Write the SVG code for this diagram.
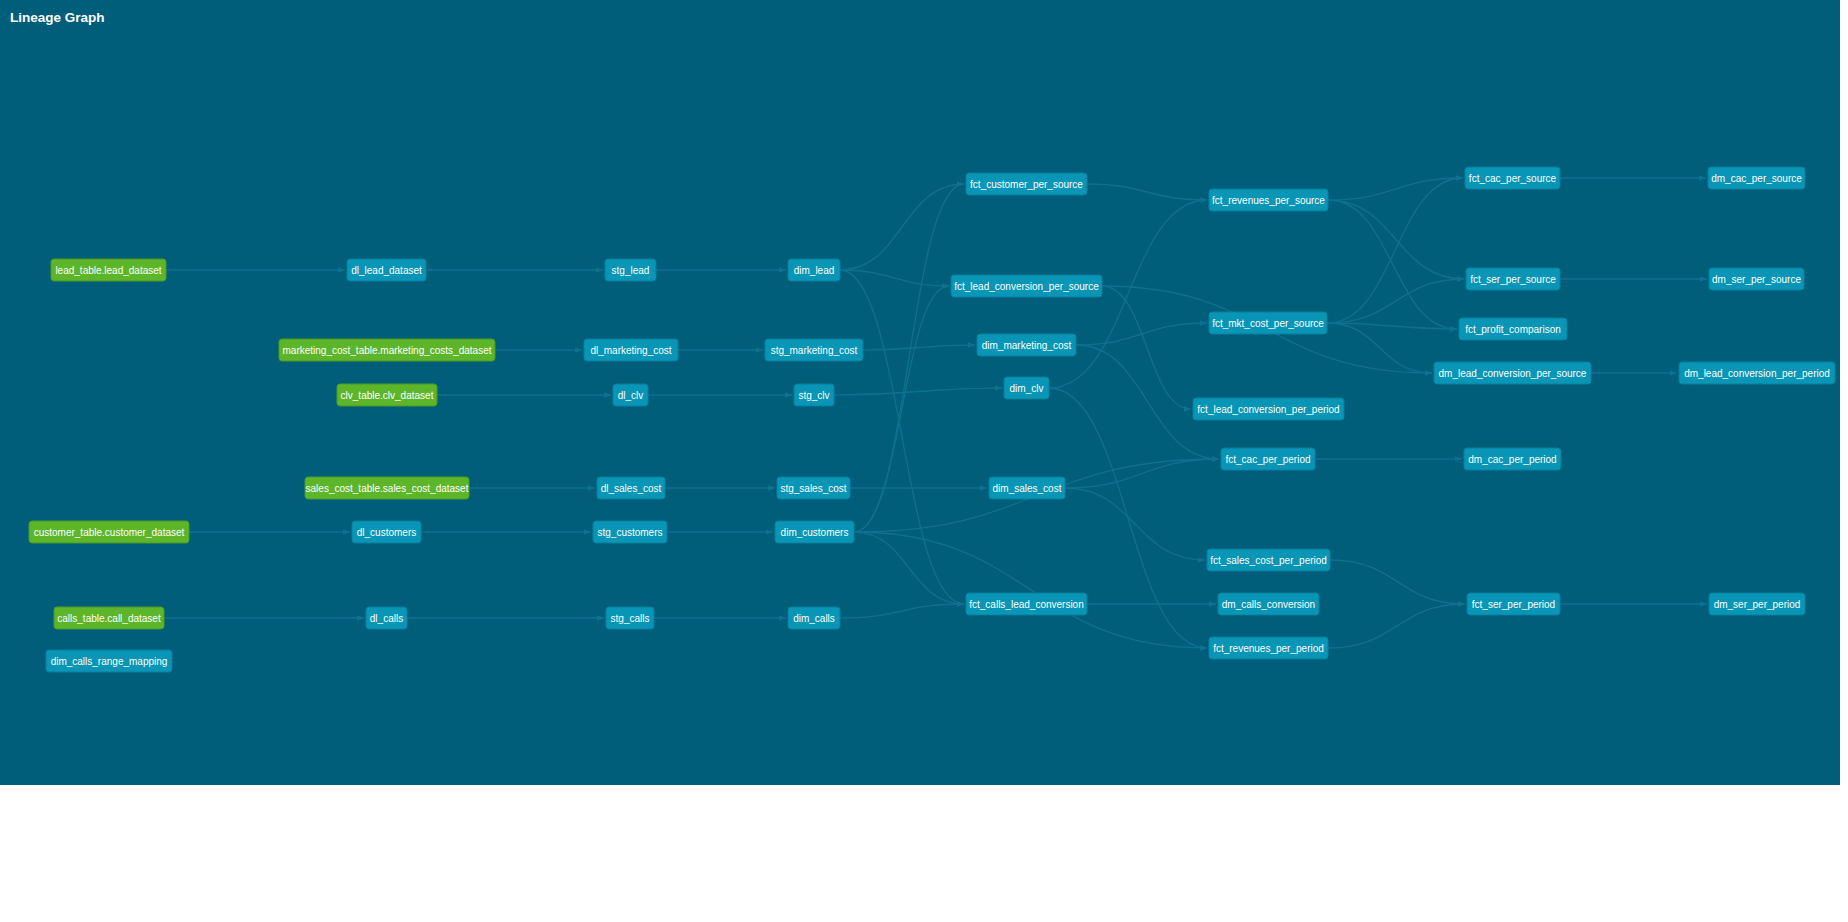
<svg xmlns="http://www.w3.org/2000/svg" width="1848" height="922" viewBox="0 0 1848 922">
<style>
.bg{fill:#005e7a}
.title{font-family:"Liberation Sans",Arial,sans-serif;font-size:13.5px;font-weight:bold;fill:#ffffff}
.node rect{fill:#0895b6;stroke:#07809d;stroke-width:1}
.node.src rect{fill:#5db52a;stroke:#4c9a22}
.node text{font-family:"Liberation Sans",Arial,sans-serif;font-size:10px;fill:#ffffff;text-anchor:middle}
.edges path{fill:none;stroke:#0e7190;stroke-width:1.3}
</style>
<defs>
<marker id="arrow" viewBox="0 0 10 10" refX="10" refY="5" markerWidth="7" markerHeight="7" orient="auto" markerUnits="userSpaceOnUse">
<path d="M0,1 L10,5 L0,9 z" fill="#0e7190"/>
</marker>
</defs>
<rect x="0" y="0" width="1848" height="922" fill="#ffffff"/>
<rect class="bg" x="0" y="0" width="1840" height="785"/>
<text class="title" x="10" y="22">Lineage Graph</text>

<g class="edges">
<path marker-end="url(#arrow)" d="M166 270 L345 270"/>
<path marker-end="url(#arrow)" d="M426 270 L603 270"/>
<path marker-end="url(#arrow)" d="M656 270 L786 270"/>
<path marker-end="url(#arrow)" d="M495 350 L582 350"/>
<path marker-end="url(#arrow)" d="M678 350 L763 350"/>
<path marker-end="url(#arrow)" d="M863 350 C919 350 919 345 975 345"/>
<path marker-end="url(#arrow)" d="M437 395 L611 395"/>
<path marker-end="url(#arrow)" d="M648 395 L792 395"/>
<path marker-end="url(#arrow)" d="M834 395 C918 395 918 388 1002 388"/>
<path marker-end="url(#arrow)" d="M469 488 L595 488"/>
<path marker-end="url(#arrow)" d="M665 488 L775 488"/>
<path marker-end="url(#arrow)" d="M850 488 L987 488"/>
<path marker-end="url(#arrow)" d="M189 532 L350 532"/>
<path marker-end="url(#arrow)" d="M421 532 L591 532"/>
<path marker-end="url(#arrow)" d="M667 532 L773 532"/>
<path marker-end="url(#arrow)" d="M164 618 L364 618"/>
<path marker-end="url(#arrow)" d="M407 618 L604 618"/>
<path marker-end="url(#arrow)" d="M654 618 L786 618"/>
<path marker-end="url(#arrow)" d="M840 618 C902 618 902 604 964 604"/>
<path marker-end="url(#arrow)" d="M840 270 C902 270 902 184 964 184"/>
<path marker-end="url(#arrow)" d="M840 270 C895 270 895 286 949 286"/>
<path marker-end="url(#arrow)" d="M840 270 C902 270 902 604 964 604"/>
<path marker-end="url(#arrow)" d="M854 532 C909 532 909 184 964 184"/>
<path marker-end="url(#arrow)" d="M854 532 C902 532 902 286 949 286"/>
<path marker-end="url(#arrow)" d="M854 532 C1037 532 1037 459 1219 459"/>
<path marker-end="url(#arrow)" d="M854 532 C1031 532 1031 648 1207 648"/>
<path marker-end="url(#arrow)" d="M854 532 C909 532 909 604 964 604"/>
<path marker-end="url(#arrow)" d="M1087 184 C1147 184 1147 200 1207 200"/>
<path marker-end="url(#arrow)" d="M1049 388 C1128 388 1128 200 1207 200"/>
<path marker-end="url(#arrow)" d="M1049 388 C1128 388 1128 648 1207 648"/>
<path marker-end="url(#arrow)" d="M1076 345 C1142 345 1142 323 1207 323"/>
<path marker-end="url(#arrow)" d="M1076 345 C1148 345 1148 459 1219 459"/>
<path marker-end="url(#arrow)" d="M1102 286 C1147 286 1147 409 1191 409"/>
<path marker-end="url(#arrow)" d="M1102 286 C1267 286 1267 373 1432 373"/>
<path marker-end="url(#arrow)" d="M1065 488 C1142 488 1142 459 1219 459"/>
<path marker-end="url(#arrow)" d="M1065 488 C1135 488 1135 560 1205 560"/>
<path marker-end="url(#arrow)" d="M1087 604 L1216 604"/>
<path marker-end="url(#arrow)" d="M1328 200 C1396 200 1396 178 1463 178"/>
<path marker-end="url(#arrow)" d="M1328 200 C1396 200 1396 279 1464 279"/>
<path marker-end="url(#arrow)" d="M1328 200 C1393 200 1393 329 1457 329"/>
<path marker-end="url(#arrow)" d="M1327 323 C1395 323 1395 178 1463 178"/>
<path marker-end="url(#arrow)" d="M1327 323 C1396 323 1396 279 1464 279"/>
<path marker-end="url(#arrow)" d="M1327 323 C1392 323 1392 329 1457 329"/>
<path marker-end="url(#arrow)" d="M1327 323 C1380 323 1380 373 1432 373"/>
<path marker-end="url(#arrow)" d="M1560 178 L1706 178"/>
<path marker-end="url(#arrow)" d="M1560 279 L1707 279"/>
<path marker-end="url(#arrow)" d="M1591 373 L1677 373"/>
<path marker-end="url(#arrow)" d="M1315 459 L1462 459"/>
<path marker-end="url(#arrow)" d="M1330 560 C1398 560 1398 604 1465 604"/>
<path marker-end="url(#arrow)" d="M1328 648 C1397 648 1397 604 1465 604"/>
<path marker-end="url(#arrow)" d="M1560 604 L1707 604"/>
</g>

<g id="lead_table.lead_dataset" class="node src"><rect x="51" y="259" width="115" height="22" rx="3"/><text x="108.5" y="273.5">lead_table.lead_dataset</text></g>
<g id="customer_table.customer_dataset" class="node src"><rect x="29" y="521" width="160" height="22" rx="3"/><text x="109" y="535.5">customer_table.customer_dataset</text></g>
<g id="calls_table.call_dataset" class="node src"><rect x="54" y="607" width="110" height="22" rx="3"/><text x="109" y="621.5">calls_table.call_dataset</text></g>
<g id="dim_calls_range_mapping" class="node"><rect x="46" y="650" width="126" height="22" rx="3"/><text x="109" y="664.5">dim_calls_range_mapping</text></g>

<g id="dl_lead_dataset" class="node"><rect x="347" y="259" width="79" height="22" rx="3"/><text x="386.5" y="273.5">dl_lead_dataset</text></g>
<g id="marketing_cost_table.marketing_costs_dataset" class="node src"><rect x="279" y="339" width="216" height="22" rx="3"/><text x="387" y="353.5">marketing_cost_table.marketing_costs_dataset</text></g>
<g id="clv_table.clv_dataset" class="node src"><rect x="337" y="384" width="100" height="22" rx="3"/><text x="387" y="398.5">clv_table.clv_dataset</text></g>
<g id="sales_cost_table.sales_cost_dataset" class="node src"><rect x="305" y="477" width="164" height="22" rx="3"/><text x="387" y="491.5">sales_cost_table.sales_cost_dataset</text></g>
<g id="dl_customers" class="node"><rect x="352" y="521" width="69" height="22" rx="3"/><text x="386.5" y="535.5">dl_customers</text></g>
<g id="dl_calls" class="node"><rect x="366" y="607" width="41" height="22" rx="3"/><text x="386.5" y="621.5">dl_calls</text></g>

<g id="stg_lead" class="node"><rect x="605" y="259" width="51" height="22" rx="3"/><text x="630.5" y="273.5">stg_lead</text></g>
<g id="dl_marketing_cost" class="node"><rect x="584" y="339" width="94" height="22" rx="3"/><text x="631" y="353.5">dl_marketing_cost</text></g>
<g id="dl_clv" class="node"><rect x="613" y="384" width="35" height="22" rx="3"/><text x="630.5" y="398.5">dl_clv</text></g>
<g id="dl_sales_cost" class="node"><rect x="597" y="477" width="68" height="22" rx="3"/><text x="631" y="491.5">dl_sales_cost</text></g>
<g id="stg_customers" class="node"><rect x="593" y="521" width="74" height="22" rx="3"/><text x="630" y="535.5">stg_customers</text></g>
<g id="stg_calls" class="node"><rect x="606" y="607" width="48" height="22" rx="3"/><text x="630" y="621.5">stg_calls</text></g>

<g id="dim_lead" class="node"><rect x="788" y="259" width="52" height="22" rx="3"/><text x="814" y="273.5">dim_lead</text></g>
<g id="stg_marketing_cost" class="node"><rect x="765" y="339" width="98" height="22" rx="3"/><text x="814" y="353.5">stg_marketing_cost</text></g>
<g id="stg_clv" class="node"><rect x="794" y="384" width="40" height="22" rx="3"/><text x="814" y="398.5">stg_clv</text></g>
<g id="stg_sales_cost" class="node"><rect x="777" y="477" width="73" height="22" rx="3"/><text x="813.5" y="491.5">stg_sales_cost</text></g>
<g id="dim_customers" class="node"><rect x="775" y="521" width="79" height="22" rx="3"/><text x="814.5" y="535.5">dim_customers</text></g>
<g id="dim_calls" class="node"><rect x="788" y="607" width="52" height="22" rx="3"/><text x="814" y="621.5">dim_calls</text></g>

<g id="fct_customer_per_source" class="node"><rect x="966" y="173" width="121" height="22" rx="3"/><text x="1026.5" y="187.5">fct_customer_per_source</text></g>
<g id="fct_lead_conversion_per_source" class="node"><rect x="951" y="275" width="151" height="22" rx="3"/><text x="1026.5" y="289.5">fct_lead_conversion_per_source</text></g>
<g id="dim_marketing_cost" class="node"><rect x="977" y="334" width="99" height="22" rx="3"/><text x="1026.5" y="348.5">dim_marketing_cost</text></g>
<g id="dim_clv" class="node"><rect x="1004" y="377" width="45" height="22" rx="3"/><text x="1026.5" y="391.5">dim_clv</text></g>
<g id="dim_sales_cost" class="node"><rect x="989" y="477" width="76" height="22" rx="3"/><text x="1027" y="491.5">dim_sales_cost</text></g>
<g id="fct_calls_lead_conversion" class="node"><rect x="966" y="593" width="121" height="22" rx="3"/><text x="1026.5" y="607.5">fct_calls_lead_conversion</text></g>

<g id="fct_revenues_per_source" class="node"><rect x="1209" y="189" width="119" height="22" rx="3"/><text x="1268.5" y="203.5">fct_revenues_per_source</text></g>
<g id="fct_mkt_cost_per_source" class="node"><rect x="1209" y="312" width="118" height="22" rx="3"/><text x="1268" y="326.5">fct_mkt_cost_per_source</text></g>
<g id="fct_lead_conversion_per_period" class="node"><rect x="1193" y="398" width="151" height="22" rx="3"/><text x="1268.5" y="412.5">fct_lead_conversion_per_period</text></g>
<g id="fct_cac_per_period" class="node"><rect x="1221" y="448" width="94" height="22" rx="3"/><text x="1268" y="462.5">fct_cac_per_period</text></g>
<g id="fct_sales_cost_per_period" class="node"><rect x="1207" y="549" width="123" height="22" rx="3"/><text x="1268.5" y="563.5">fct_sales_cost_per_period</text></g>
<g id="dm_calls_conversion" class="node"><rect x="1218" y="593" width="101" height="22" rx="3"/><text x="1268.5" y="607.5">dm_calls_conversion</text></g>
<g id="fct_revenues_per_period" class="node"><rect x="1209" y="637" width="119" height="22" rx="3"/><text x="1268.5" y="651.5">fct_revenues_per_period</text></g>

<g id="fct_cac_per_source" class="node"><rect x="1465" y="167" width="95" height="22" rx="3"/><text x="1512.5" y="181.5">fct_cac_per_source</text></g>
<g id="fct_ser_per_source" class="node"><rect x="1466" y="268" width="94" height="22" rx="3"/><text x="1513" y="282.5">fct_ser_per_source</text></g>
<g id="fct_profit_comparison" class="node"><rect x="1459" y="318" width="108" height="22" rx="3"/><text x="1513" y="332.5">fct_profit_comparison</text></g>
<g id="dm_lead_conversion_per_source" class="node"><rect x="1434" y="362" width="157" height="22" rx="3"/><text x="1512.5" y="376.5">dm_lead_conversion_per_source</text></g>
<g id="dm_cac_per_period" class="node"><rect x="1464" y="448" width="97" height="22" rx="3"/><text x="1512.5" y="462.5">dm_cac_per_period</text></g>
<g id="fct_ser_per_period" class="node"><rect x="1467" y="593" width="93" height="22" rx="3"/><text x="1513.5" y="607.5">fct_ser_per_period</text></g>

<g id="dm_cac_per_source" class="node"><rect x="1708" y="167" width="97" height="22" rx="3"/><text x="1756.5" y="181.5">dm_cac_per_source</text></g>
<g id="dm_ser_per_source" class="node"><rect x="1709" y="268" width="95" height="22" rx="3"/><text x="1756.5" y="282.5">dm_ser_per_source</text></g>
<g id="dm_lead_conversion_per_period" class="node"><rect x="1679" y="362" width="156" height="22" rx="3"/><text x="1757" y="376.5">dm_lead_conversion_per_period</text></g>
<g id="dm_ser_per_period" class="node"><rect x="1709" y="593" width="96" height="22" rx="3"/><text x="1757" y="607.5">dm_ser_per_period</text></g>
</svg>
